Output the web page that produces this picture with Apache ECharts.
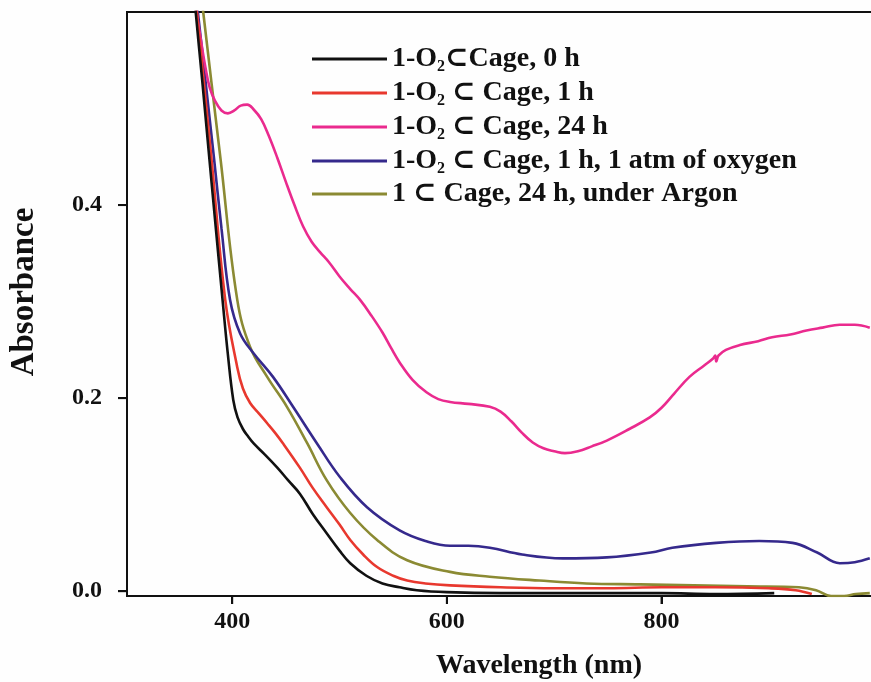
<!DOCTYPE html>
<html>
<head>
<meta charset="utf-8">
<script src="https://cdn.jsdelivr.net/npm/echarts@6/dist/echarts.min.js"></script>
<style>
html,body{margin:0;padding:0;background:#fefefe;}
#c{width:871px;height:682px;}
</style>
</head>
<body>
<div id="c"></div>
<script>
// ---- data (wavelength in nm, absorbance) ----
const seriesNames = [
  '1-O2⊂Cage, 0 h',
  '1-O2 ⊂ Cage, 1 h',
  '1-O2 ⊂ Cage, 24 h',
  '1-O2 ⊂ Cage, 1 h, 1 atm of oxygen',
  '1 ⊂ Cage, 24 h, under Argon'
];
const legendLabels = [
  '1-O{sub|2}⊂Cage, 0 h',
  '1-O{sub|2} ⊂ Cage, 1 h',
  '1-O{sub|2} ⊂ Cage, 24 h',
  '1-O{sub|2} ⊂ Cage, 1 h, 1 atm of oxygen',
  '1 ⊂ Cage, 24 h, under Argon'
];
const colors = ['#111111', '#e8382e', '#ea2a8e', '#35298c', '#8b8a33'];

const wl0h = [360, 366, 372, 378, 384, 391, 396, 401, 405, 410, 415, 420, 430, 442, 452, 463, 475, 488, 500, 510, 525, 540, 556, 572, 600, 650, 700, 750, 800, 850, 905];
const abs0h = [0.68, 0.60, 0.53, 0.457, 0.385, 0.302, 0.245, 0.198, 0.180, 0.168, 0.160, 0.153, 0.142, 0.128, 0.115, 0.101, 0.080, 0.060, 0.042, 0.029, 0.016, 0.008, 0.004, 0.001, -0.001, -0.002, -0.002, -0.002, -0.002, -0.003, -0.002];

const wl1h = [360, 367, 380, 393.5, 404.7, 410, 416.7, 425, 432.6, 440, 447.4, 463, 475, 488, 500, 510, 522, 535, 550, 563, 580, 603, 650, 700, 750, 800, 850, 900, 925, 940];
const abs1h = [0.68, 0.60, 0.456, 0.302, 0.232, 0.210, 0.195, 0.184, 0.174, 0.164, 0.153, 0.128, 0.107, 0.087, 0.069, 0.053, 0.038, 0.025, 0.016, 0.011, 0.008, 0.006, 0.004, 0.003, 0.003, 0.004, 0.004, 0.003, 0.001, -0.003];

const wl24h = [360, 367, 371, 375, 379, 384, 390, 396, 402, 408, 414, 420, 427, 434, 442, 450, 458, 466, 474, 482, 490, 500, 510, 519, 530, 540, 548, 556, 568, 581, 592, 603, 620, 640, 650, 660, 670, 680, 690, 700, 710, 722, 735, 749, 770, 789, 800, 812, 826, 840, 848, 850, 851, 853, 860, 873, 890, 903, 920, 935, 950, 966, 980, 994];
const abs24h = [0.68, 0.60, 0.57, 0.543, 0.522, 0.508, 0.498, 0.495, 0.498, 0.503, 0.504, 0.499, 0.489, 0.472, 0.449, 0.424, 0.400, 0.378, 0.362, 0.351, 0.341, 0.326, 0.313, 0.302, 0.285, 0.268, 0.252, 0.237, 0.219, 0.206, 0.199, 0.196, 0.194, 0.191, 0.186, 0.176, 0.164, 0.154, 0.148, 0.145, 0.143, 0.145, 0.150, 0.156, 0.168, 0.180, 0.190, 0.205, 0.222, 0.234, 0.241, 0.244, 0.238, 0.244, 0.250, 0.255, 0.259, 0.263, 0.266, 0.270, 0.273, 0.276, 0.276, 0.273];

const wlOxy = [360, 368, 383, 390, 398, 407.4, 419.5, 438, 456.7, 479, 500.5, 525.6, 556, 580, 603, 620, 640, 670, 708, 749, 790, 810, 851, 891, 922, 945, 966, 980, 994];
const absOxy = [0.68, 0.60, 0.449, 0.376, 0.302, 0.267, 0.247, 0.222, 0.191, 0.153, 0.118, 0.087, 0.063, 0.052, 0.047, 0.047, 0.045, 0.038, 0.034, 0.035, 0.040, 0.045, 0.050, 0.052, 0.050, 0.040, 0.029, 0.030, 0.034];

const wlAr = [365, 373, 389, 404.7, 416.7, 432.6, 451, 470, 488, 510, 535, 563, 603, 640, 686, 730, 780, 830, 880, 928, 944, 958, 970, 981, 994];
const absAr = [0.68, 0.60, 0.449, 0.302, 0.253, 0.222, 0.191, 0.153, 0.115, 0.081, 0.053, 0.032, 0.020, 0.015, 0.011, 0.008, 0.007, 0.006, 0.005, 0.004, 0.001, -0.005, -0.005, -0.003, -0.002];

const xTicks = [400, 600, 800];
const yTicks = [0, 0.2, 0.4];
const xRange = [302, 997];
const yRange = [-0.005, 0.6];

const wlSets = [wl0h, wl1h, wl24h, wlOxy, wlAr];
const absSets = [abs0h, abs1h, abs24h, absOxy, absAr];

const serif = '"Liberation Serif", "DejaVu Serif", serif';
const ink = '#111';

const chart = echarts.init(document.getElementById('c'), null, {renderer: 'canvas'});
const series = seriesNames.map((name, i) => ({
  name: name,
  type: 'line',
  data: wlSets[i].map((w, j) => [w, absSets[i][j]]),
  showSymbol: false,
  symbol: 'none',
  smooth: 0.4,
  clip: true,
  color: colors[i],
  lineStyle: {width: 2.6, color: colors[i]},
  z: 10 - i
}));

// tick marks drawn as a custom series positioned through the axes' scales
series.push({
  type: 'custom', name: 'xTickMarks', silent: true, clip: false, z: 30,
  data: xTicks.map(v => [v, yRange[0]]),
  renderItem: (params, api) => {
    const p = api.coord([api.value(0), api.value(1)]);
    return {type: 'rect', shape: {x: p[0] - 1, y: p[1], width: 2, height: 8}, style: {fill: ink}};
  }
});
series.push({
  type: 'custom', name: 'yTickMarks', silent: true, clip: false, z: 30,
  data: yTicks.map(v => [xRange[0], v]),
  renderItem: (params, api) => {
    const p = api.coord([api.value(0), api.value(1)]);
    return {type: 'rect', shape: {x: p[0] - 9, y: p[1] - 1, width: 9, height: 2}, style: {fill: ink}};
  }
});

chart.setOption({
  animation: false,
  backgroundColor: '#fefefe',
  tooltip: {show: false},
  grid: {left: 127, right: -2, top: 12, bottom: 86, outerBoundsMode: 'none', containLabel: false,
    show: true, borderColor: ink, borderWidth: 2, backgroundColor: 'transparent'},
  xAxis: {
    type: 'value', min: xRange[0], max: xRange[1],
    name: 'Wavelength (nm)', nameLocation: 'middle', nameGap: 56,
    nameTextStyle: {fontFamily: serif, fontWeight: 'bold', fontSize: 28, color: ink, padding: [0, 0, 0, 78]},
    axisLine: {show: true, onZero: false, lineStyle: {color: ink, width: 2}},
    axisTick: {show: true, customValues: xTicks, length: 8, lineStyle: {color: ink, width: 2}},
    axisLabel: {customValues: xTicks, margin: 14, fontFamily: serif, fontWeight: 'bold', fontSize: 24, color: ink},
    splitLine: {show: false}
  },
  yAxis: {
    type: 'value', min: yRange[0], max: yRange[1],
    name: 'Absorbance', nameLocation: 'middle', nameGap: 86, nameRotate: 90,
    nameTextStyle: {fontFamily: serif, fontWeight: 'bold', fontSize: 33, color: ink, padding: [0, 0, 0, 24]},
    axisLine: {show: true, lineStyle: {color: ink, width: 2}},
    axisTick: {show: true, customValues: yTicks, length: 9, lineStyle: {color: ink, width: 2}},
    axisLabel: {customValues: yTicks, margin: 25, fontFamily: serif, fontWeight: 'bold', fontSize: 24, color: ink,
      formatter: v => v.toFixed(1)},
    splitLine: {show: false}
  },
  legend: {
    orient: 'vertical', left: 312, top: 43, padding: 0,
    itemWidth: 75, itemHeight: 14, itemGap: 2,
    data: seriesNames,
    icon: 'path://M0,5.5 L75,5.5 L75,8.5 L0,8.5 Z',
    formatter: name => legendLabels[seriesNames.indexOf(name)],
    textStyle: {
      fontFamily: serif, fontWeight: 'bold', fontSize: 28, color: ink, lineHeight: 30,
      rich: {
        sub: {fontFamily: serif, fontWeight: 'bold', fontSize: 16, lineHeight: 16, padding: [16, 0, 0, 0], color: ink}
      }
    }
  },
  series: series
});
</script>
</body>
</html>
